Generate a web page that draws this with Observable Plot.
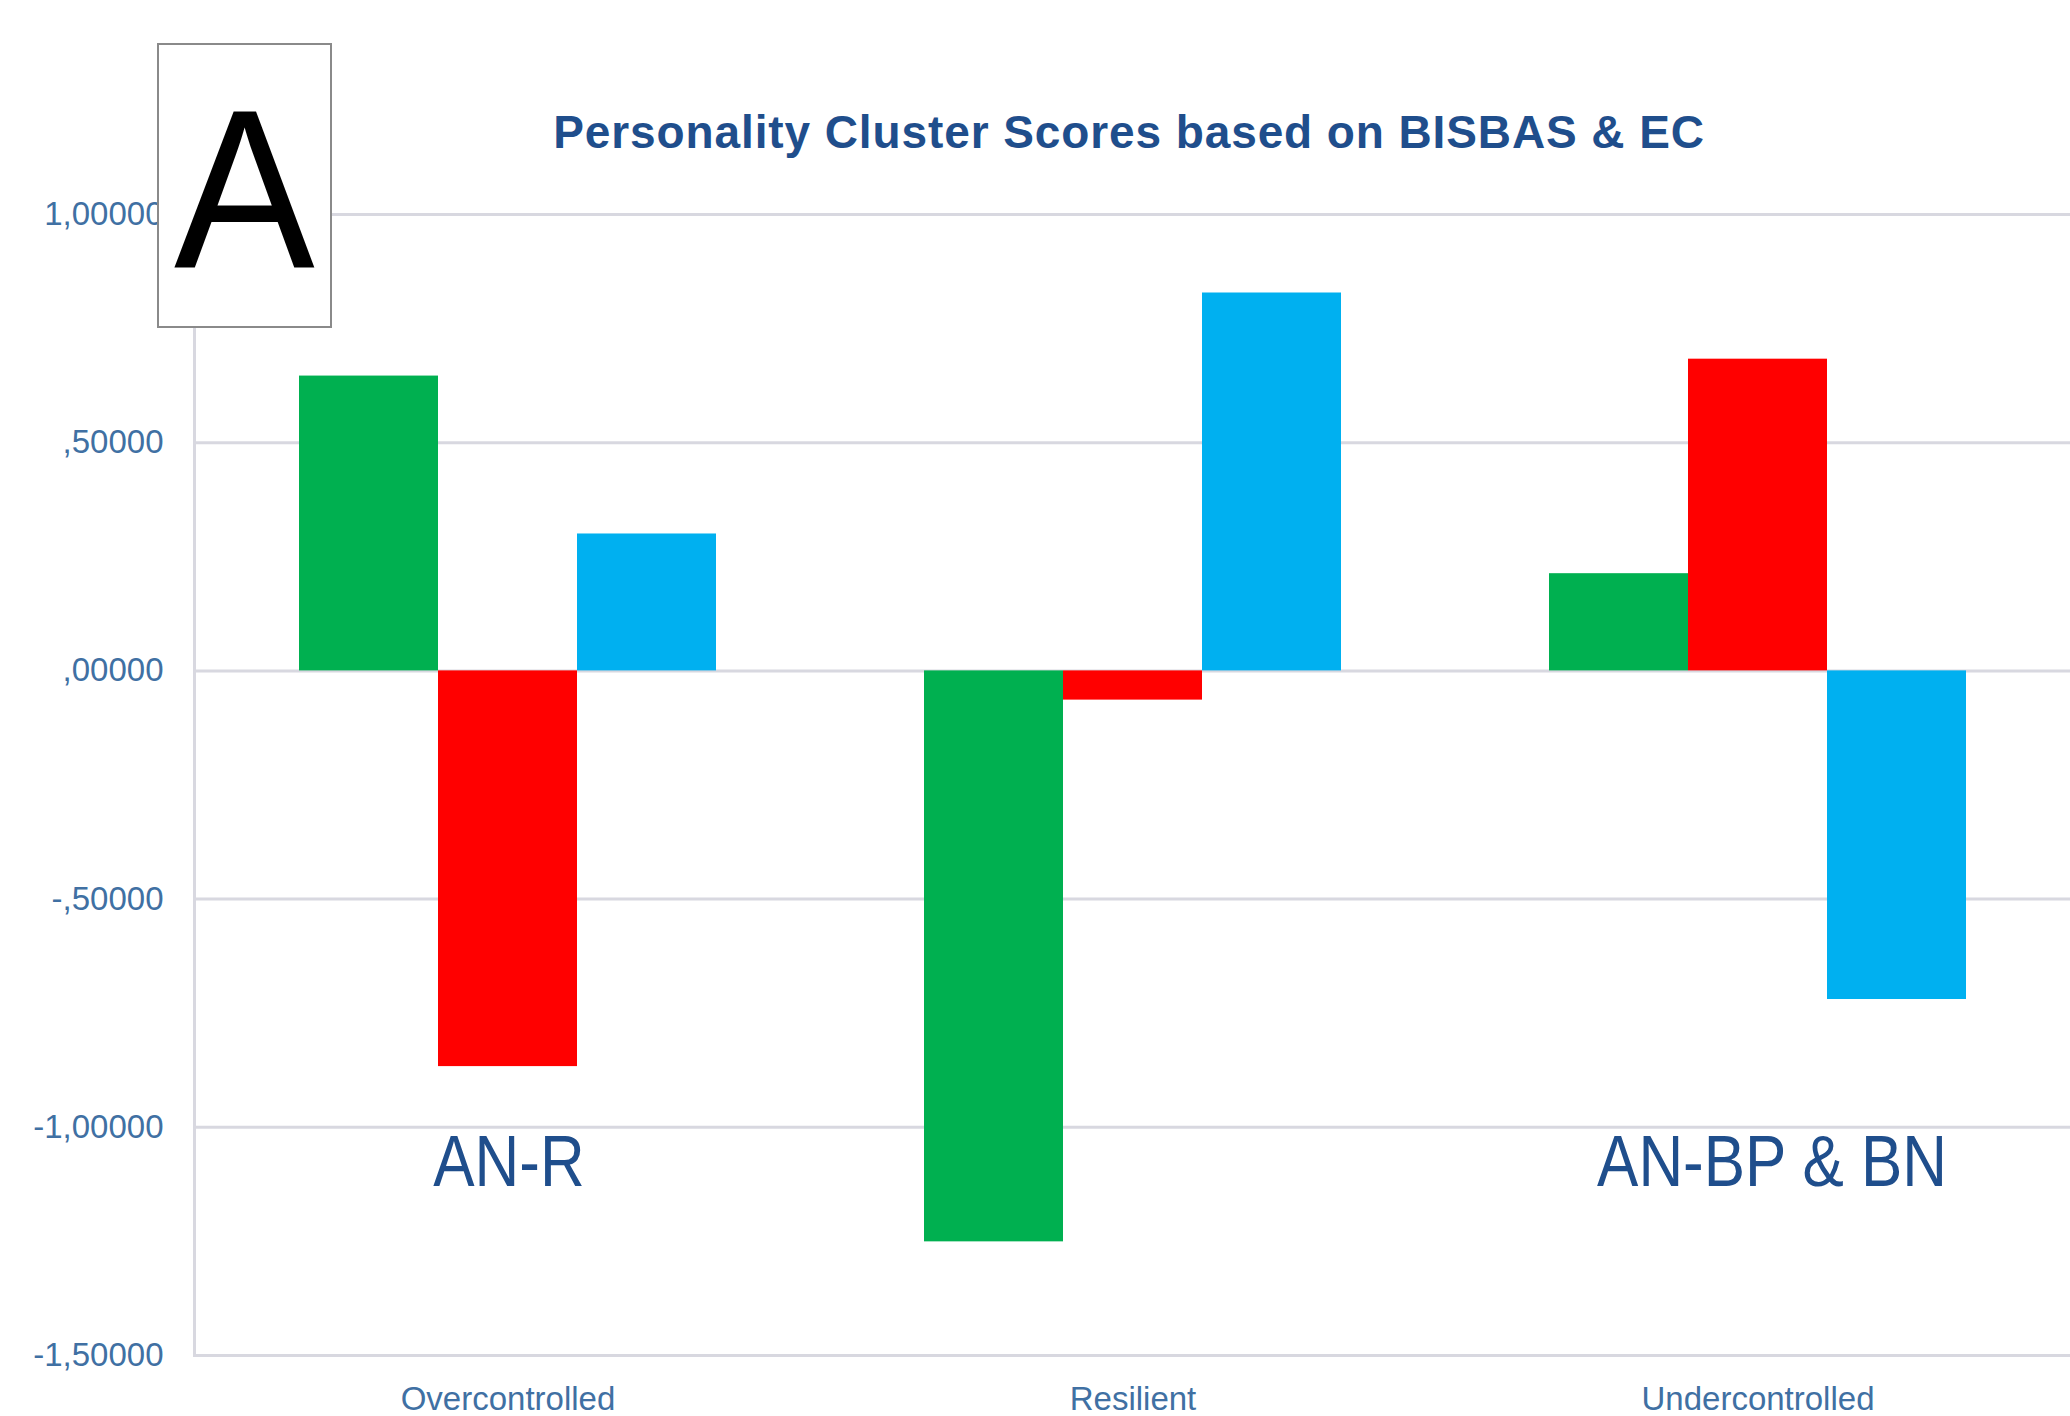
<!DOCTYPE html>
<html>
<head>
<meta charset="utf-8">
<script src="https://cdn.jsdelivr.net/npm/d3@7"></script>
<script src="https://cdn.jsdelivr.net/npm/@observablehq/plot@0.6"></script>
<style>
  html, body { margin: 0; padding: 0; background: #ffffff; }
  #wrap { position: relative; width: 2070px; height: 1416px; overflow: hidden; font-family: "Liberation Sans", Arial, sans-serif; }
  #title { box-sizing: border-box; height: 170px; padding-top: 109px; padding-left: 188px; text-align: center;
           font-size: 46px; line-height: 46px; font-weight: bold; color: #1f4e8c; letter-spacing: 0.9px; white-space: nowrap; }
  #chart { position: relative; width: 2070px; height: 1246px; }
  #chart svg { position: absolute; left: 0; top: 0; }
  #panel { position: absolute; left: 157px; top: 43px; width: 175px; height: 285px; box-sizing: border-box;
           border: 2px solid #8a8a8a; background: #ffffff; text-align: center; }
  #panel span { display: block; padding-top: 31px; font-size: 227px; line-height: 227px; color: #000000;
                transform: scaleX(0.93); }
</style>
</head>
<body>
<div id="wrap">
  <div id="title">Personality Cluster Scores based on BISBAS &amp; EC</div>
  <div id="chart"></div>
  <div id="panel"><span>A</span></div>
</div>
<script>
// ---- data ----
const categories = ["Overcontrolled", "Resilient", "Undercontrolled"];
const series = ["BAS", "BIS", "EC"];
const seriesColors = ["#00b050", "#ff0000", "#00b0f0"];
const valuesBAS = [0.646, -1.251, 0.213];
const valuesBIS = [-0.867, -0.064, 0.683];
const valuesEC  = [0.300, 0.828, -0.720];
const yTicks = [-1.5, -1.0, -0.5, 0, 0.5, 1.0];
const annotationCategories = ["Overcontrolled", "Undercontrolled"];
const annotationLabels = ["AN-R", "AN-BP & BN"];

const seriesValues = [valuesBAS, valuesBIS, valuesEC];
const data = [];
categories.forEach((c, i) => {
  series.forEach((s, j) => data.push({category: c, series: s, value: seriesValues[j][i]}));
});
const annotations = annotationCategories.map((c, i) => ({category: c, label: annotationLabels[i]}));

const fmt = d => {
  let s = Math.abs(d).toFixed(5).replace(".", ",");
  if (s.startsWith("0")) s = s.slice(1);
  return (d < 0 ? "-" : "") + s;
};

const axisColor = "#4070a3";
const gridColor = "#d8d8e0";
const frameOpts = {
  width: 2070,
  height: 1246,
  marginTop: 44,
  marginBottom: 61,
  marginLeft: 194,
  marginRight: 0,
  style: {fontFamily: "'Liberation Sans', Arial, sans-serif", background: "transparent"}
};

// background layer: gridlines, axis line, tick labels, category labels
const back = Plot.plot({
  ...frameOpts,
  x: {type: "band", domain: categories, padding: 0, label: null},
  y: {domain: [-1.5, 1.0], axis: null},
  marks: [
    Plot.ruleY(yTicks, {stroke: gridColor, strokeWidth: 3}),
    Plot.frame({anchor: "left", stroke: gridColor, strokeWidth: 3}),
    Plot.text(yTicks, {y: d => d, text: fmt, frameAnchor: "left", textAnchor: "end", dx: -31,
      fontSize: 33, fill: axisColor}),
    Plot.axisX({anchor: "bottom", tickSize: 0, tickPadding: 31, fontSize: 33, fill: axisColor, label: null})
  ]
});

// foreground layer: grouped bars and annotations
const annotStyle = {fx: "category", y: () => -1.128, text: "label", lineAnchor: "bottom",
  fontSize: 72, fill: "#1f4e8c", className: "annot"};
const front = Plot.plot({
  ...frameOpts,
  fx: {domain: categories, paddingInner: 1/3, paddingOuter: 1/6, label: null, axis: null},
  x: {domain: series, padding: 0, axis: null},
  y: {domain: [-1.5, 1.0], axis: null},
  color: {domain: series, range: seriesColors},
  marks: [
    Plot.barY(data, {fx: "category", x: "series", y: "value", fill: "series"}),
    Plot.text(annotations.slice(0, 1), {...annotStyle, dx: 1}),
    Plot.text(annotations.slice(1), {...annotStyle, dx: 14})
  ]
});

const host = document.getElementById("chart");
host.appendChild(back);
host.appendChild(front);

// condensed look of the annotation lettering
front.querySelectorAll(".annot text").forEach(t => {
  const w = t.getComputedTextLength();
  t.setAttribute("textLength", (w * 0.86).toFixed(1));
  t.setAttribute("lengthAdjust", "spacingAndGlyphs");
});
</script>
</body>
</html>
